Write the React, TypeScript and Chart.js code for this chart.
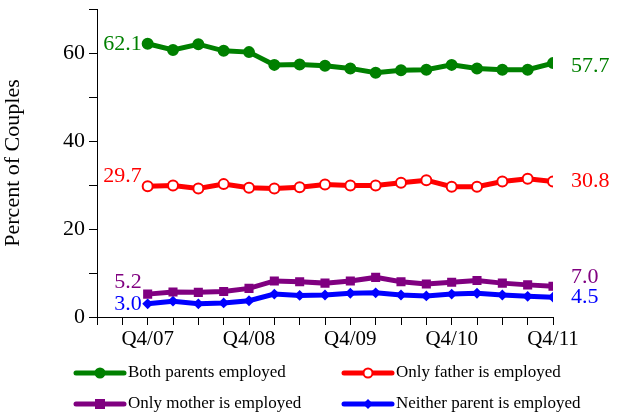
import { useEffect, useRef } from "react";
import { Chart, registerables } from "chart.js";

Chart.register(...registerables);

const quarters = [
  "Q4/07", "Q1/08", "Q2/08", "Q3/08", "Q4/08", "Q1/09", "Q2/09", "Q3/09", "Q4/09",
  "Q1/10", "Q2/10", "Q3/10", "Q4/10", "Q1/11", "Q2/11", "Q3/11", "Q4/11",
];
const shownLabels = ["Q4/07", "Q4/08", "Q4/09", "Q4/10", "Q4/11"];

const bothEmployed = [62.1, 60.7, 62.0, 60.5, 60.2, 57.3, 57.4, 57.1, 56.5, 55.5, 56.1, 56.2, 57.3, 56.5, 56.2, 56.2, 57.7];
const fatherOnly = [29.7, 29.9, 29.2, 30.2, 29.4, 29.2, 29.5, 30.1, 29.9, 29.9, 30.5, 31.1, 29.6, 29.6, 30.8, 31.4, 30.8];
const motherOnly = [5.2, 5.7, 5.6, 5.8, 6.5, 8.2, 8.0, 7.7, 8.2, 9.0, 8.0, 7.5, 7.9, 8.3, 7.7, 7.3, 7.0];
const neither = [3.0, 3.6, 3.0, 3.2, 3.7, 5.2, 4.9, 5.0, 5.4, 5.5, 5.0, 4.8, 5.2, 5.4, 5.0, 4.7, 4.5];

const FONT = "'Liberation Serif', 'DejaVu Serif', serif";
const X_OFFSET = 2; // data starts two slots right of the axis

type S = { label: string; data: number[]; color: string; style: string; fill: string; r: number; dyL: number; dyR: number };
const series: S[] = [
  { label: "Both parents employed", data: bothEmployed, color: "#008000", style: "circle", fill: "#008000", r: 5, dyL: 0, dyR: 3 },
  { label: "Only father is employed", data: fatherOnly, color: "#ff0000", style: "circle", fill: "#ffffff", r: 5, dyL: -10, dyR: 0 },
  { label: "Only mother is employed", data: motherOnly, color: "#800080", style: "rect", fill: "#800080", r: 5, dyL: -12, dyR: -9 },
  { label: "Neither parent is employed", data: neither, color: "#0000ff", style: "rectRot", fill: "#0000ff", r: 4, dyL: 0, dyR: 0 },
];

const endLabels = {
  id: "endLabels",
  afterDatasetsDraw(chart: Chart) {
    const ctx = chart.ctx;
    ctx.save();
    ctx.font = `22px ${FONT}`;
    ctx.textBaseline = "middle";
    series.forEach((s, i) => {
      const meta = chart.getDatasetMeta(i);
      const first = meta.data[0];
      const last = meta.data[meta.data.length - 1];
      ctx.fillStyle = s.color;
      ctx.textAlign = "right";
      ctx.fillText(s.data[0].toFixed(1), first.x - 6, first.y + s.dyL);
      ctx.textAlign = "left";
      ctx.fillText(s.data[s.data.length - 1].toFixed(1), last.x + 18, last.y + s.dyR);
    });
    ctx.restore();
  },
};

const legendPlugin = {
  id: "customLegend",
  afterDraw(chart: Chart) {
    const ctx = chart.ctx;
    ctx.save();
    ctx.font = `17px ${FONT}`;
    ctx.textBaseline = "middle";
    const spots = [
      [74, 373], [342, 373], [74, 404], [342, 404],
    ];
    series.forEach((s, i) => {
      const [x, y] = spots[i];
      ctx.strokeStyle = s.color;
      ctx.lineWidth = 5;
      ctx.lineCap = "round";
      ctx.beginPath();
      ctx.moveTo(x + 2, y);
      ctx.lineTo(x + 50, y);
      ctx.stroke();
      ctx.fillStyle = s.fill;
      ctx.strokeStyle = s.color;
      ctx.lineWidth = 2;
      if (s.style === "circle") {
        ctx.beginPath();
        ctx.arc(x + 26, y, 4.5, 0, Math.PI * 2);
        ctx.fill();
        ctx.stroke();
      } else if (s.style === "rect") {
        ctx.fillRect(x + 21, y - 5, 10, 10);
      } else {
        ctx.beginPath();
        ctx.moveTo(x + 26, y - 5);
        ctx.lineTo(x + 31, y);
        ctx.lineTo(x + 26, y + 5);
        ctx.lineTo(x + 21, y);
        ctx.closePath();
        ctx.fill();
      }
      ctx.fillStyle = "#000";
      ctx.textAlign = "left";
      ctx.fillText(s.label, x + 54, y);
    });
    ctx.restore();
  },
};

export default function App() {
  const canvasRef = useRef<HTMLCanvasElement>(null);

  useEffect(() => {
    document.body.style.margin = "0";
    if (!canvasRef.current) return;
    const chart = new Chart(canvasRef.current, {
      type: "line",
      data: {
        datasets: series.map((s) => ({
          label: s.label,
          data: s.data.map((v, i) => ({ x: i + X_OFFSET, y: v })),
          borderColor: s.color,
          backgroundColor: s.fill,
          pointBackgroundColor: s.fill,
          pointBorderColor: s.color,
          pointBorderWidth: 2,
          pointStyle: s.style as any,
          pointRadius: s.r,
          borderWidth: 5,
          tension: 0,
        })),
      },
      options: {
        responsive: false,
        animation: false,
        layout: { padding: { top: 9, right: 86, left: 0, bottom: 0 } },
        plugins: { legend: { display: false }, tooltip: { enabled: false } },
        scales: {
          x: {
            type: "linear",
            min: 0,
            max: quarters.length + X_OFFSET - 1,
            afterFit: (axis: any) => {
              axis.height = 97;
              axis.paddingLeft = 0;
              axis.paddingRight = 0;
            },
            border: { color: "#000", width: 1 },
            grid: { drawOnChartArea: false, color: "#000", tickLength: 8 },
            ticks: {
              stepSize: 1,
              autoSkip: false,
              maxRotation: 0,
              color: "#000",
              font: { family: FONT, size: 21 },
              padding: 2,
              callback: (v: any) => {
                const q = quarters[Number(v) - X_OFFSET];
                return q && shownLabels.includes(q) ? q : "";
              },
            },
          },
          y: {
            min: 0,
            max: 70,
            afterFit: (axis: any) => {
              axis.width = 97;
              axis.paddingTop = 0;
              axis.paddingBottom = 0;
            },
            border: { color: "#000", width: 1 },
            grid: { drawOnChartArea: false, color: "#000", tickLength: 8 },
            title: {
              display: true,
              text: "Percent of Couples",
              color: "#000",
              font: { family: FONT, size: 22 },
              padding: { top: 0, bottom: 6 },
            },
            ticks: {
              stepSize: 10,
              color: "#000",
              font: { family: FONT, size: 22 },
              padding: 4,
              callback: (v: any) => (Number(v) % 20 === 0 && Number(v) < 70 ? String(v) : ""),
            },
          },
        },
      },
      plugins: [endLabels, legendPlugin],
    });
    return () => chart.destroy();
  }, []);

  return <canvas ref={canvasRef} width={639} height={414} />;
}
